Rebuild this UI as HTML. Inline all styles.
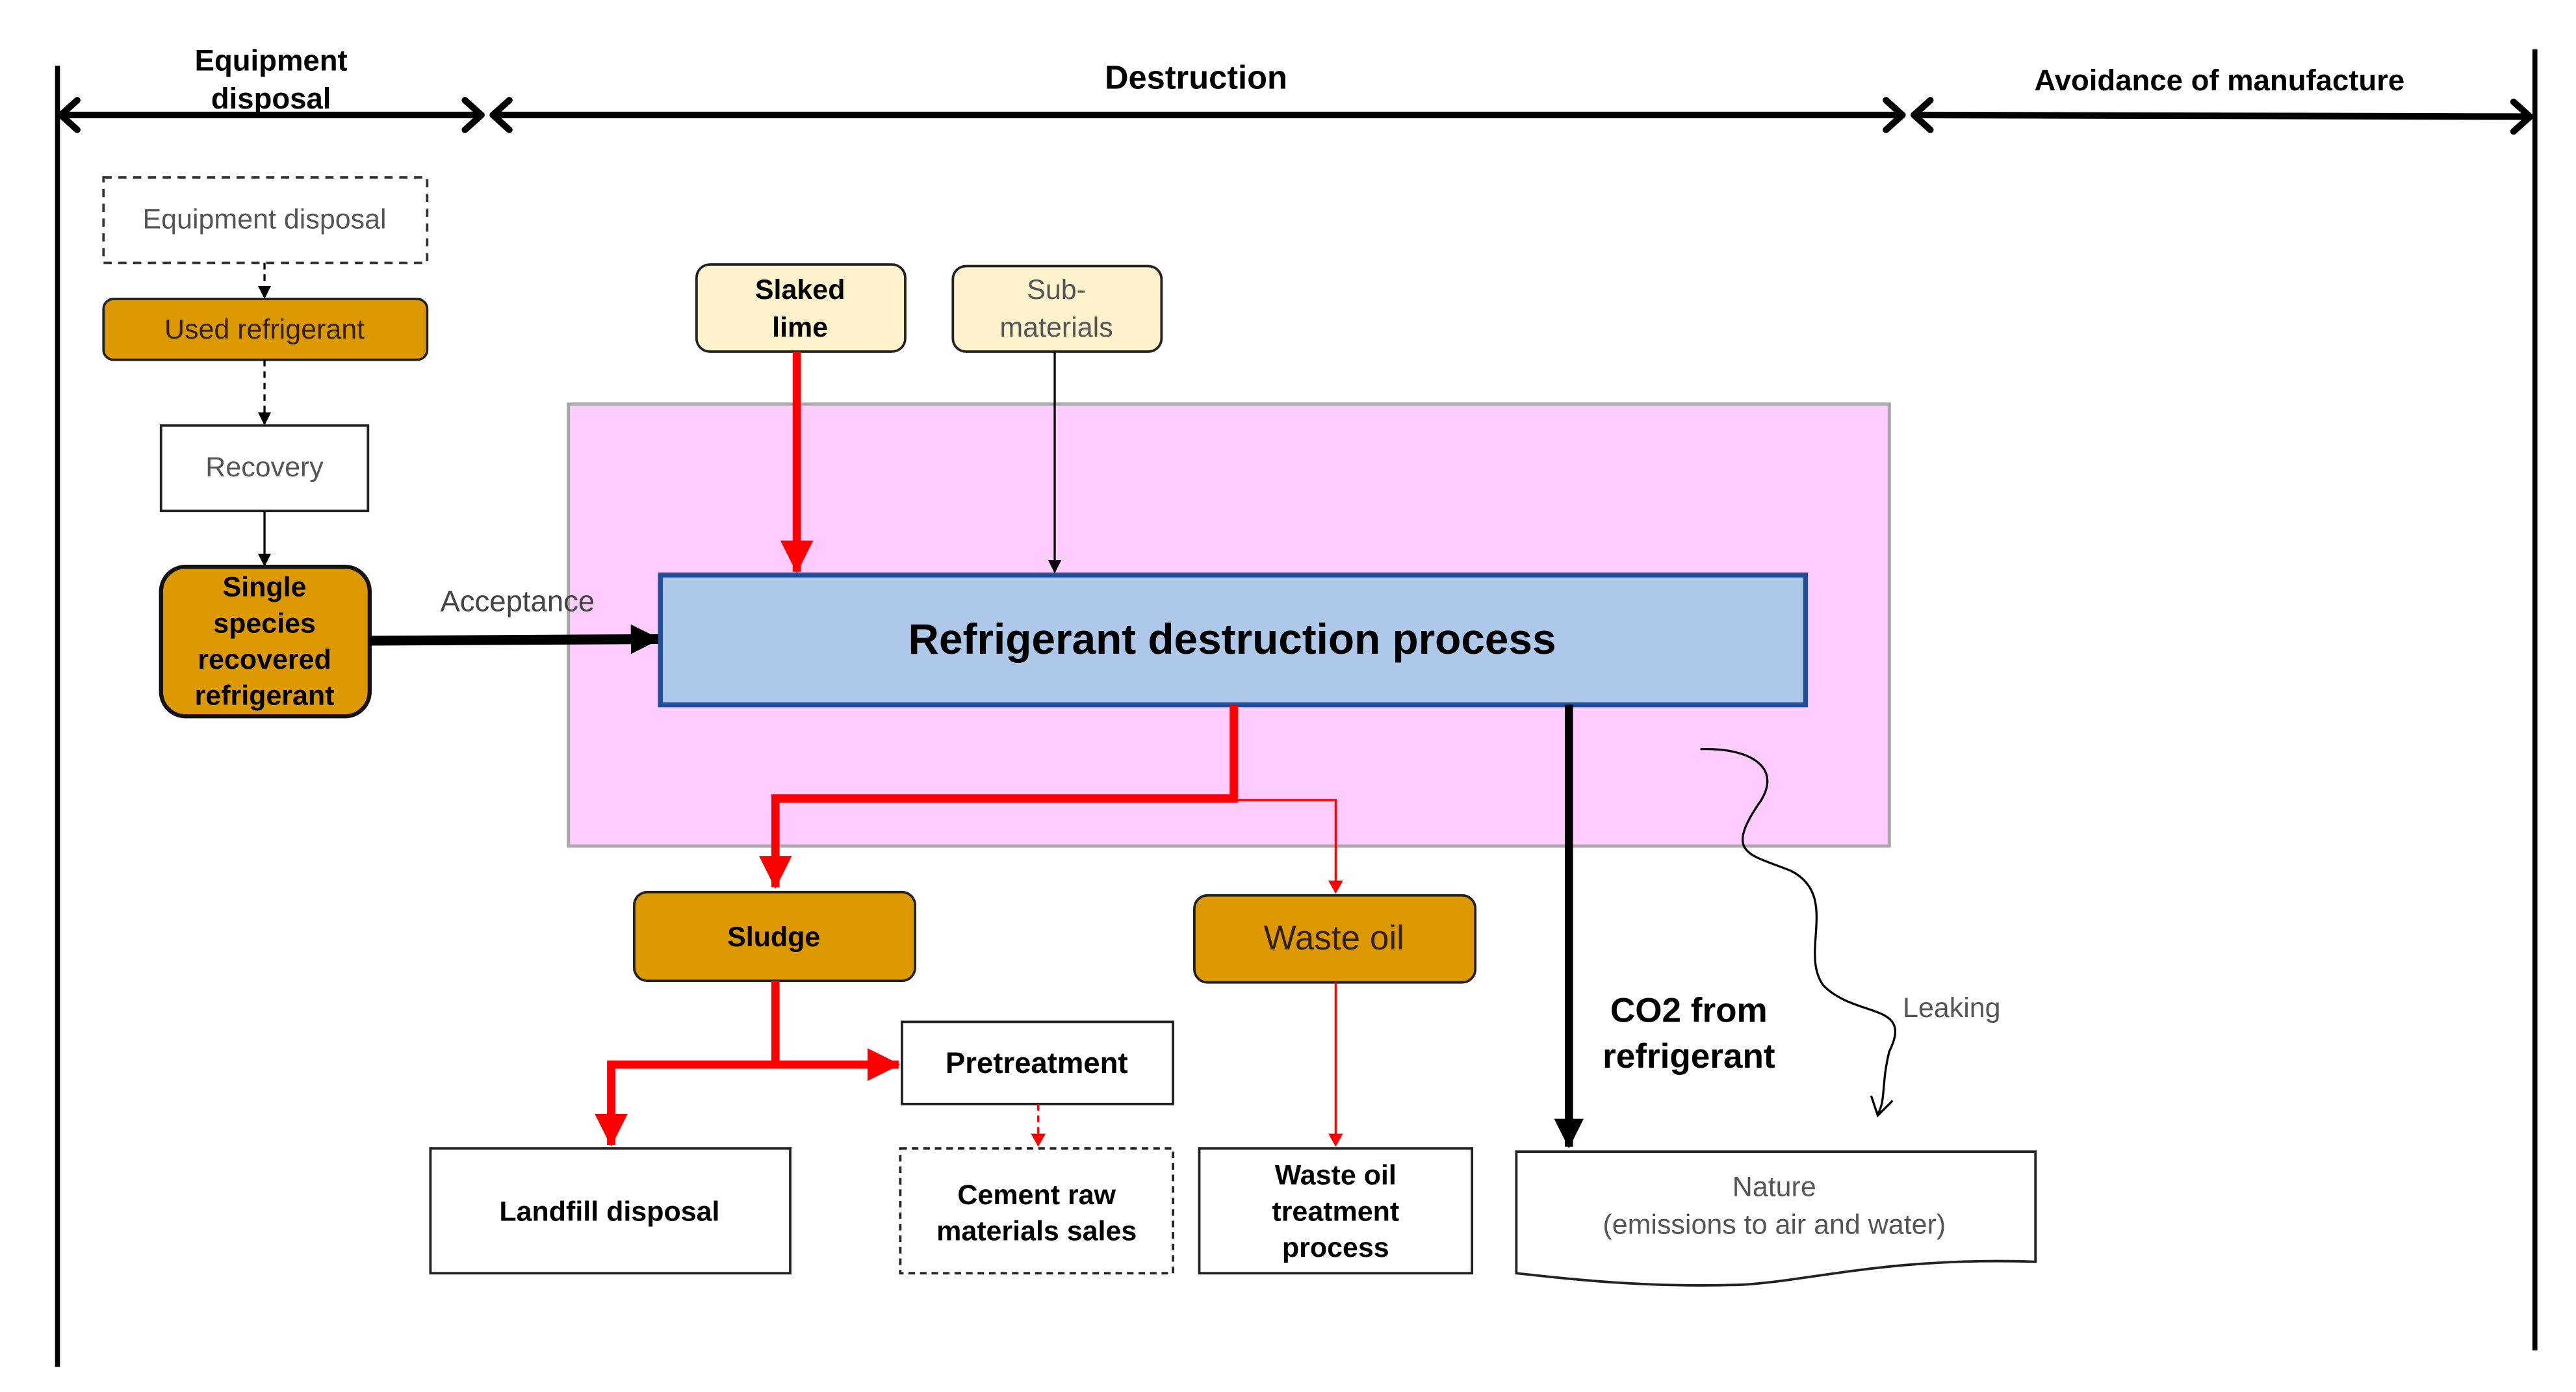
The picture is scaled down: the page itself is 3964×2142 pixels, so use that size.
<!DOCTYPE html>
<html><head><meta charset="utf-8"><style>
html,body{margin:0;padding:0;background:#fff;}
svg{display:block;}
text{font-family:"Liberation Sans",sans-serif;}
</style></head><body>
<svg width="3964" height="2142" viewBox="0 0 1568 847.3" xmlns="http://www.w3.org/2000/svg">
<defs>
<marker id="ab" markerWidth="8" markerHeight="8" refX="7" refY="4" orient="auto" markerUnits="userSpaceOnUse"><path d="M0,0 L8,4 L0,8 z" fill="#000"/></marker>
<marker id="abL" markerWidth="18" markerHeight="18" refX="17" refY="9" orient="auto" markerUnits="userSpaceOnUse"><path d="M0,0 L18,9 L0,18 z" fill="#000"/></marker>
<marker id="ar" markerWidth="8" markerHeight="9" refX="7" refY="4.5" orient="auto" markerUnits="userSpaceOnUse"><path d="M0,0 L8,4.5 L0,9 z" fill="#f00"/></marker>
<marker id="arL" markerWidth="20" markerHeight="20" refX="19" refY="10" orient="auto" markerUnits="userSpaceOnUse"><path d="M0,0 L20,10 L0,20 z" fill="#f00"/></marker>
</defs>
<!-- frame lines -->
<line x1="35" y1="40" x2="35" y2="832" stroke="#000" stroke-width="3"/>
<line x1="1543" y1="30" x2="1543" y2="822" stroke="#000" stroke-width="3"/>
<g stroke="#000" stroke-width="4" fill="none" stroke-linecap="round" stroke-linejoin="round">
<line x1="37" y1="70" x2="293" y2="70"/><polyline points="47,61 37,70 47,79"/><polyline points="283,61 293,70 283,79"/>
<line x1="300" y1="70" x2="1158" y2="70"/><polyline points="310,61 300,70 310,79"/><polyline points="1148,61 1158,70 1148,79"/>
<line x1="1165" y1="70" x2="1540" y2="71"/><polyline points="1175,61 1165,70 1175,79"/><polyline points="1530,62 1540,71 1530,80"/>
</g>
<text x="165" y="43" font-size="18" font-weight="bold" text-anchor="middle">Equipment</text>
<text x="165" y="66" font-size="18" font-weight="bold" text-anchor="middle">disposal</text>
<text x="728" y="54" font-size="20" font-weight="bold" text-anchor="middle">Destruction</text>
<text x="1351" y="55" font-size="18" font-weight="bold" text-anchor="middle">Avoidance of manufacture</text>

<!-- pink area -->
<rect x="346" y="246" width="804" height="269" fill="#ffccff" stroke="#aaa" stroke-width="2"/>

<!-- left column -->
<rect x="63" y="108" width="197" height="52" fill="#fff" stroke="#333" stroke-width="1.5" stroke-dasharray="5,4"/>
<text x="161" y="139" font-size="17" fill="#555" text-anchor="middle">Equipment disposal</text>
<line x1="161" y1="160" x2="161" y2="181" stroke="#000" stroke-width="1.3" stroke-dasharray="4,3" marker-end="url(#ab)"/>
<rect x="63" y="182" width="197" height="37" rx="6" fill="#dd9900" stroke="#222" stroke-width="1.5"/>
<text x="161" y="206" font-size="17" fill="#332200" text-anchor="middle">Used refrigerant</text>
<line x1="161" y1="219" x2="161" y2="258" stroke="#000" stroke-width="1.3" stroke-dasharray="4,3" marker-end="url(#ab)"/>
<rect x="98" y="259" width="126" height="52" fill="#fff" stroke="#222" stroke-width="1.5"/>
<text x="161" y="290" font-size="17" fill="#555" text-anchor="middle">Recovery</text>
<line x1="161" y1="311" x2="161" y2="344" stroke="#000" stroke-width="1.3" marker-end="url(#ab)"/>
<rect x="98" y="345" width="127" height="91" rx="15" fill="#dd9900" stroke="#111" stroke-width="2.5"/>
<g font-size="17" font-weight="bold" text-anchor="middle"><text x="161" y="363">Single</text><text x="161" y="385">species</text><text x="161" y="407">recovered</text><text x="161" y="429">refrigerant</text></g>
<text x="315" y="372" font-size="18" fill="#444" text-anchor="middle">Acceptance</text>
<line x1="225" y1="390" x2="401" y2="389" stroke="#000" stroke-width="6" marker-end="url(#abL)"/>

<!-- inputs -->
<rect x="424" y="161" width="127" height="53" rx="8" fill="#fff2cc" stroke="#222" stroke-width="1.5"/>
<text x="487" y="182" font-size="17" font-weight="bold" text-anchor="middle">Slaked</text>
<text x="487" y="205" font-size="17" font-weight="bold" text-anchor="middle">lime</text>
<rect x="580" y="162" width="127" height="52" rx="8" fill="#fff2cc" stroke="#222" stroke-width="1.5"/>
<text x="643" y="182" font-size="17" fill="#555" text-anchor="middle">Sub-</text>
<text x="643" y="205" font-size="17" fill="#555" text-anchor="middle">materials</text>
<line x1="485" y1="214" x2="485" y2="348" stroke="#f00" stroke-width="5" marker-end="url(#arL)"/>
<line x1="642" y1="214" x2="642" y2="348" stroke="#000" stroke-width="1.3" marker-end="url(#ab)"/>

<!-- main process -->
<rect x="402" y="350" width="697" height="79" fill="#adc8e8" stroke="#1f4e9a" stroke-width="3"/>
<text x="750" y="398" font-size="26" font-weight="bold" text-anchor="middle">Refrigerant destruction process</text>

<!-- outputs -->
<polyline points="751,429 751,486 472,486 472,540" fill="none" stroke="#f00" stroke-width="5" marker-end="url(#arL)"/>
<polyline points="751,487 813,487 813,543" fill="none" stroke="#f00" stroke-width="1.3" marker-end="url(#ar)"/>
<rect x="386" y="543" width="171" height="54" rx="8" fill="#dd9900" stroke="#222" stroke-width="1.5"/>
<text x="471" y="576" font-size="17" font-weight="bold" text-anchor="middle">Sludge</text>
<rect x="727" y="545" width="171" height="53" rx="8" fill="#dd9900" stroke="#222" stroke-width="1.5"/>
<text x="812" y="578" font-size="21" fill="#332200" text-anchor="middle">Waste oil</text>

<polyline points="472,597 472,648 372,648 372,697" fill="none" stroke="#f00" stroke-width="5" marker-end="url(#arL)"/>
<line x1="472" y1="648" x2="547" y2="648" stroke="#f00" stroke-width="5" marker-end="url(#arL)"/>
<rect x="549" y="622" width="165" height="50" fill="#fff" stroke="#222" stroke-width="1.5"/>
<text x="631" y="653" font-size="18" font-weight="bold" text-anchor="middle">Pretreatment</text>
<line x1="632" y1="672" x2="632" y2="697" stroke="#f00" stroke-width="1.3" stroke-dasharray="4,3" marker-end="url(#ar)"/>
<line x1="813" y1="598" x2="813" y2="697" stroke="#f00" stroke-width="1.3" marker-end="url(#ar)"/>

<rect x="262" y="699" width="219" height="76" fill="#fff" stroke="#222" stroke-width="1.5"/>
<text x="371" y="743" font-size="17" font-weight="bold" text-anchor="middle">Landfill disposal</text>
<rect x="548" y="699" width="166" height="76" fill="#fff" stroke="#222" stroke-width="1.5" stroke-dasharray="4,3"/>
<text x="631" y="733" font-size="17" font-weight="bold" text-anchor="middle">Cement raw</text>
<text x="631" y="755" font-size="17" font-weight="bold" text-anchor="middle">materials sales</text>
<rect x="730" y="699" width="166" height="76" fill="#fff" stroke="#222" stroke-width="1.5"/>
<g font-size="17" font-weight="bold" text-anchor="middle"><text x="813" y="721">Waste oil</text><text x="813" y="743">treatment</text><text x="813" y="765">process</text></g>

<line x1="955" y1="429" x2="955" y2="698" stroke="#000" stroke-width="5" marker-end="url(#abL)"/>
<text x="1028" y="622" font-size="21" font-weight="bold" text-anchor="middle">CO2 from</text>
<text x="1028" y="650" font-size="21" font-weight="bold" text-anchor="middle">refrigerant</text>

<path d="M1035,456 C1070,455 1085,470 1070,490 C1050,520 1065,520 1090,530 C1120,545 1095,580 1110,600 C1130,620 1165,610 1150,640 C1145,660 1148,670 1143,678" fill="none" stroke="#000" stroke-width="1.3"/>
<polyline points="1139,667 1143,679 1152,670" fill="none" stroke="#000" stroke-width="1.3"/>
<text x="1188" y="619" font-size="17" fill="#555" text-anchor="middle">Leaking</text>

<path d="M923,701 L1239,701 L1239,768 C1150,765 1100,780 1060,782 C1000,784 950,778 923,775 Z" fill="#fff" stroke="#222" stroke-width="1.5"/>
<text x="1080" y="728" font-size="17" fill="#555" text-anchor="middle">Nature</text>
<text x="1080" y="751" font-size="17" fill="#555" text-anchor="middle">(emissions to air and water)</text>
</svg>
</body></html>
